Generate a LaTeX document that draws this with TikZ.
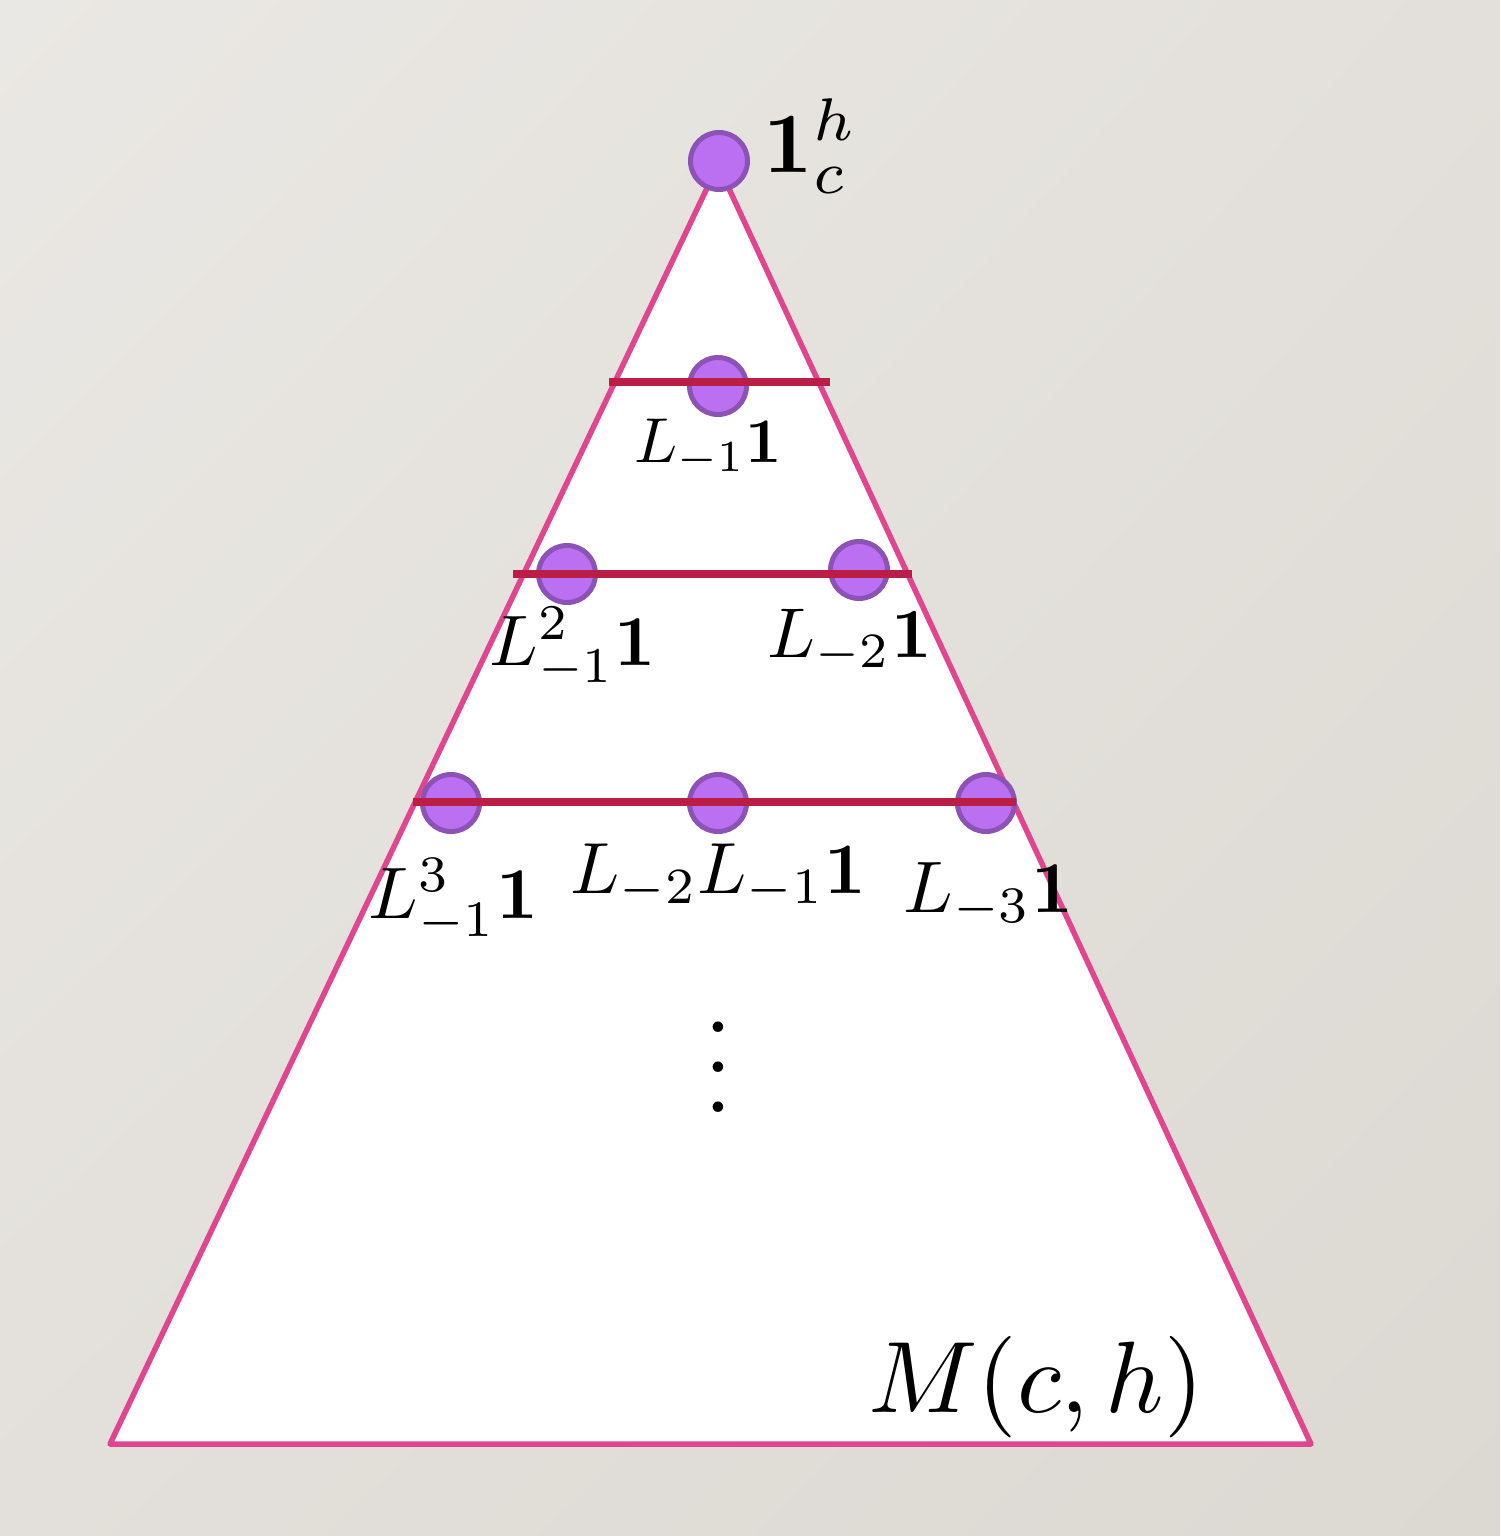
\documentclass[tikz,border=0pt]{standalone}
\usetikzlibrary{calc,shadings}
\definecolor{bgA}{HTML}{EAE8E4}
\definecolor{bgB}{HTML}{DCD9D3}
\definecolor{bgC}{HTML}{E3E0DB}
\definecolor{edgepink}{HTML}{E0468F}
\definecolor{barred}{HTML}{BA1E46}
\definecolor{dotfill}{HTML}{BA70F0}
\definecolor{dotedge}{HTML}{8C52B4}
\tikzset{
  dot/.style={circle, draw=dotedge, fill=dotfill, line width=5pt, minimum size=57pt, inner sep=0pt},
  bar/.style={draw=barred, line width=8.5pt},
  tri/.style={draw=edgepink, fill=white, line width=5.5pt, line join=round},
  lab/.style={inner sep=0pt, anchor=base west},
}
\begin{document}
\begin{tikzpicture}[x=1pt,y=-1pt]
\useasboundingbox (0,0) rectangle (1500,1536);
\shade[upper left=bgA, upper right=bgC, lower left=bgC, lower right=bgB] (0,0) rectangle (1500,1536);
% triangle
\coordinate (apex) at (718,165);
\coordinate (bl) at (110,1444);
\coordinate (br) at (1311,1444);
\draw[tri] (apex) -- (bl) -- (br) -- cycle;
% dots
\node[dot] (top) at (719,161) {};
\node[dot] (a1) at (718,386) {};
\node[dot] (b1) at (567,574) {};
\node[dot] (b2) at (859,570) {};
\node[dot] (c1) at (451,803) {};
\node[dot] (c2) at (718,803) {};
\node[dot] (c3) at (986,803) {};
% bars
\coordinate (r1l) at (609,382); \coordinate (r1r) at (830,382);
\coordinate (r2l) at (513,574); \coordinate (r2r) at (912,574);
\coordinate (r3l) at (413,802); \coordinate (r3r) at (1016,802);
\draw[bar] (r1l) -- (r1r);
\draw[bar] (r2l) -- (r2r);
\draw[bar] (r3l) -- (r3r);
% labels
\node[lab, scale=8.6] (ltop) at (762,172) {$\mathbf{1}_c^h$};
\node[lab, scale=6.35] (la1) at (633,462) {$L_{-1}\mathbf{1}$};
\node[lab, scale=7.15] (lb1) at (488,665) {$L^2_{-1}\mathbf{1}$};
\node[lab, scale=7.05] (lb2) at (766,657) {$L_{-2}\mathbf{1}$};
\node[lab, scale=7.3] (lc1) at (367,918) {$L^3_{-1}\mathbf{1}$};
\node[lab, scale=7.25] (lc2) at (569,893) {$L_{-2}L_{-1}\mathbf{1}$};
\node[lab, scale=7.3] (lc3) at (902,912) {$L_{-3}\mathbf{1}$};
\node[lab, scale=10.15] (lm) at (866,1412) {$M(c,h)$};
\node[inner sep=0pt, scale=10] (dots) at (718,1037) {$\vdots$};
\end{tikzpicture}
\end{document}
